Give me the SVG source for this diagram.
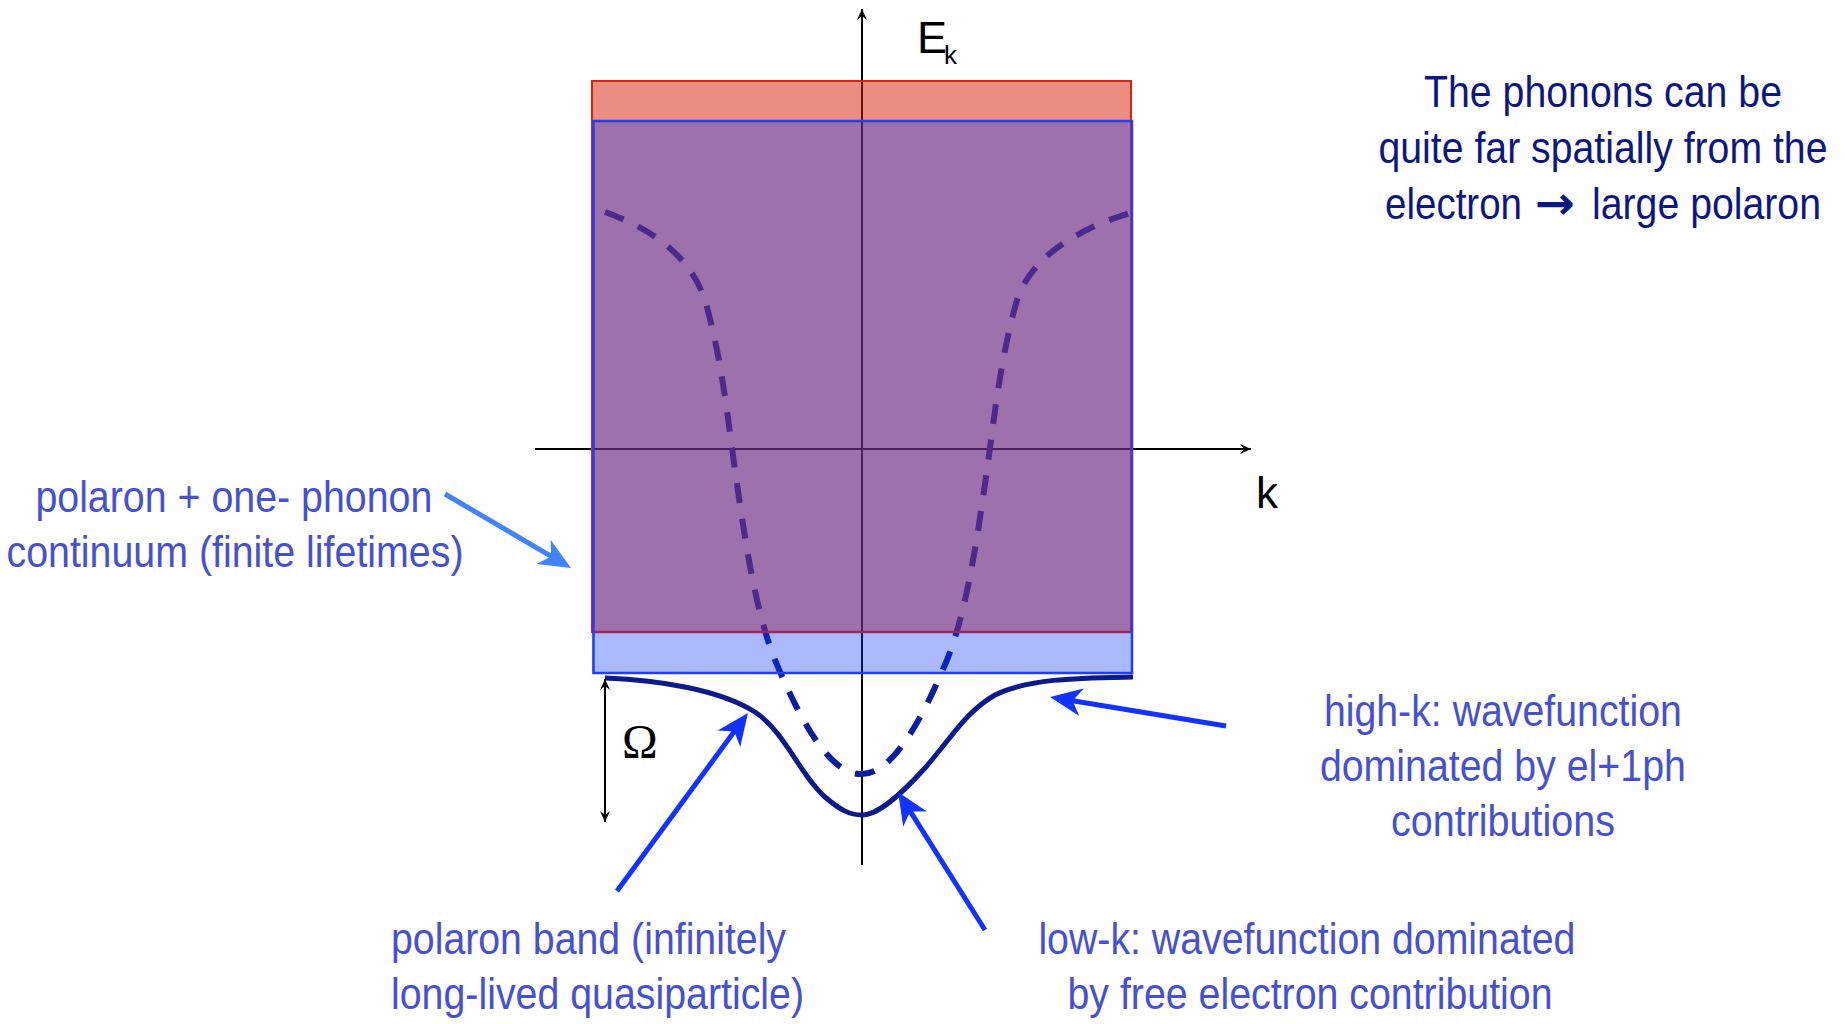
<svg xmlns="http://www.w3.org/2000/svg" width="1845" height="1024" viewBox="0 0 1845 1024">
<style>
.lbl{font-family:"Liberation Sans",Arial,sans-serif;font-size:44px;fill:#4650d2}
.note{font-family:"Liberation Sans",Arial,sans-serif;font-size:45px;fill:#0d1780}
.ax{font-family:"Liberation Sans",Arial,sans-serif;fill:#000}
.axis{stroke:#000;stroke-width:2;fill:none}
.ptr{stroke-width:5;fill:none}
</style>
<defs>
<marker id="ah" markerUnits="userSpaceOnUse" viewBox="-14 -7 16 14" refX="0" refY="0" markerWidth="16" markerHeight="14" orient="auto-start-reverse">
<path d="M0,0 L-11,-5 L-7,0 L-11,5 Z" fill="#000"/>
</marker>
<marker id="bh" markerUnits="userSpaceOnUse" viewBox="-14 -16 36 32" refX="0" refY="0" markerWidth="36" markerHeight="32" orient="auto">
<path d="M20,0 L-12,-14 L-3,0 L-12,14 Z" fill="#1232ff"/>
</marker>
<marker id="lh" markerUnits="userSpaceOnUse" viewBox="-14 -16 36 32" refX="0" refY="0" markerWidth="36" markerHeight="32" orient="auto">
<path d="M20,0 L-12,-14 L-3,0 L-12,14 Z" fill="#4183ff"/>
</marker>
</defs>
<rect width="1845" height="1024" fill="#fff"/>

<g id="axes">
<line class="axis" x1="862" y1="865" x2="862" y2="9" marker-end="url(#ah)"/>
<line class="axis" x1="535" y1="449" x2="1251" y2="449" marker-end="url(#ah)"/>
</g>

<g id="bare-electron-band">
<path d="M605,212 C650,228 690,255 705,300 C722,360 728,420 735,470 C745,540 755,610 775,660 C800,720 830,775 861,774 C892,775 922,720 947,660 C967,610 977,540 987,470 C994,420 1000,360 1017,300 C1032,255 1080,228 1133,212" fill="none" stroke="#0a1e9e" stroke-width="6" stroke-dasharray="20 16"/>
</g>

<g id="continuum">
<rect x="592" y="81" width="540" height="40" fill="#d31d01" fill-opacity="0.5"/>
<rect x="592" y="121" width="540" height="511" fill="#6d2e84" fill-opacity="0.68"/>
<rect x="592" y="632" width="540" height="41" fill="#0c34f6" fill-opacity="0.35"/>
<rect x="592" y="81" width="539" height="551" fill="none" stroke="#e0200c" stroke-width="2"/>
<line x1="593" y1="632" x2="1131" y2="632" stroke="#a3245a" stroke-width="2.5"/>
<rect x="593.5" y="121" width="538.5" height="552" fill="none" stroke="#1f3fff" stroke-width="2.5"/>
</g>

<g id="polaron-band">
<path d="M605,678 C660,680 720,690 755,712 C785,732 800,775 825,797 C840,810 850,815 862,815 C880,815 905,790 925,768 C950,740 965,712 995,695 C1030,678 1080,678 1133,677" fill="none" stroke="#0d1a8c" stroke-width="5"/>
</g>

<g id="omega-gap">
<line class="axis" x1="605" y1="679" x2="605" y2="822" marker-start="url(#ah)" marker-end="url(#ah)"/>
<text x="622" y="758" font-family="'Liberation Serif','Times New Roman',serif" font-size="48" fill="#000">Ω</text>
</g>

<g id="label-Ek">
<text class="ax" x="917" y="53" font-size="45">E<tspan font-size="26" dx="-3" dy="11">k</tspan></text>
</g>
<g id="label-k">
<text class="ax" x="1256" y="508" font-size="44">k</text>
</g>

<g id="note-large-polaron">
<text class="note" text-anchor="middle" x="1603" y="107" textLength="358" lengthAdjust="spacingAndGlyphs">The phonons can be</text>
<text class="note" text-anchor="middle" x="1603" y="163" textLength="449" lengthAdjust="spacingAndGlyphs">quite far spatially from the</text>
<text class="note" x="1385" y="219" textLength="137" lengthAdjust="spacingAndGlyphs">electron</text>
<text x="1535" y="219" font-family="'DejaVu Sans',sans-serif" font-weight="bold" font-size="46" fill="#0d1780" textLength="40" lengthAdjust="spacingAndGlyphs">→</text>
<text class="note" x="1592" y="219" textLength="229" lengthAdjust="spacingAndGlyphs">large polaron</text>
</g>

<g id="label-continuum">
<text class="lbl" text-anchor="middle">
<tspan x="240" y="512" textLength="397" lengthAdjust="spacingAndGlyphs">polaron + one- phonon</tspan>
<tspan x="235" y="567" textLength="457" lengthAdjust="spacingAndGlyphs">continuum (finite lifetimes)</tspan>
</text>
</g>

<g id="label-polaron-band">
<text class="lbl">
<tspan x="391" y="954" textLength="395" lengthAdjust="spacingAndGlyphs">polaron band (infinitely</tspan>
<tspan x="391" y="1009" textLength="413" lengthAdjust="spacingAndGlyphs">long-lived quasiparticle)</tspan>
</text>
</g>

<g id="label-low-k">
<text class="lbl" text-anchor="middle">
<tspan x="1313" y="954" textLength="537" lengthAdjust="spacingAndGlyphs">low-k: wavefunction dominated</tspan>
<tspan x="1310" y="1009" textLength="485" lengthAdjust="spacingAndGlyphs">by free electron contribution</tspan>
</text>
</g>

<g id="label-high-k">
<text class="lbl" text-anchor="middle">
<tspan x="1509" y="726" textLength="358" lengthAdjust="spacingAndGlyphs">high-k: wavefunction</tspan>
<tspan x="1509" y="781" textLength="366" lengthAdjust="spacingAndGlyphs">dominated by el+1ph</tspan>
<tspan x="1503" y="836" textLength="224" lengthAdjust="spacingAndGlyphs">contributions</tspan>
</text>
</g>

<g id="connectors">
<line class="ptr" stroke="#4183ff" x1="445" y1="494" x2="553.8" y2="557.9" marker-end="url(#lh)"/>
<line class="ptr" stroke="#1232ff" x1="617" y1="891" x2="736.1" y2="729.1" marker-end="url(#bh)"/>
<line class="ptr" stroke="#1232ff" x1="985" y1="930" x2="908.7" y2="808.9" marker-end="url(#bh)"/>
<line class="ptr" stroke="#1232ff" x1="1226" y1="726" x2="1069.7" y2="700.3" marker-end="url(#bh)"/>
</g>
</svg>
